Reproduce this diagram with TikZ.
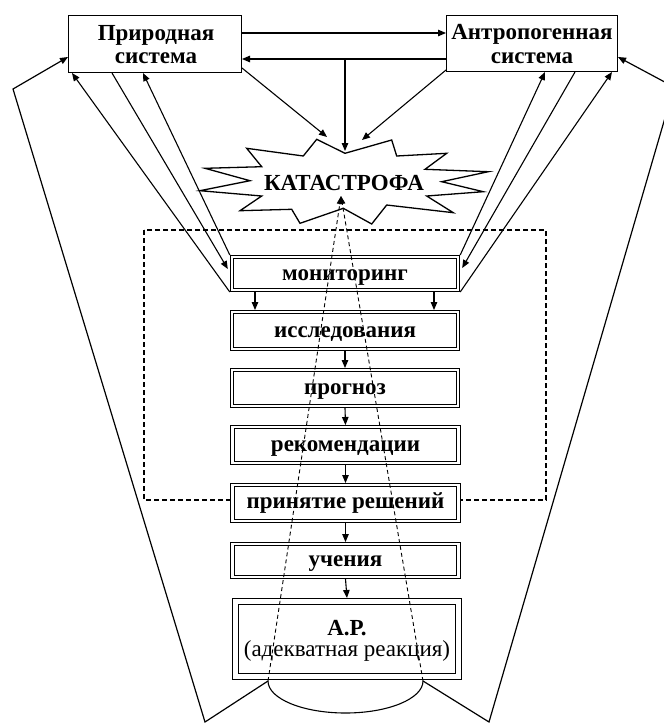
\documentclass[tikz,border=0pt]{standalone}
\usepackage{fontspec}
\setmainfont{Liberation Serif}
\usetikzlibrary{arrows.meta}
\begin{document}
\begin{tikzpicture}[x=1pt,y=-1pt,
  every node/.style={inner sep=0pt},
  lbl/.style={font=\bfseries\fontsize{23}{23}\selectfont},
  plainlbl/.style={font=\mdseries\fontsize{23}{23}\selectfont},
  sys/.style={draw, line width=1.3pt, fill=white},
  stage/.style={draw, line width=1.1pt, double, double distance=2.2pt, fill=white,
    outer sep=2.2pt, minimum width=226pt, minimum height=35.6pt,
    text height=13pt, text depth=0pt, lbl},
  link/.style={line width=1.1pt},
  arr/.style={link, -{Triangle[length=8pt,width=6.5pt]}},
  dashbox/.style={line width=1.1pt, dash pattern=on 5pt off 3pt},
  sightline/.style={line width=0.9pt, dash pattern=on 4pt off 3pt},
]
\useasboundingbox (0,0) rectangle (664,724);
\clip (0,0) rectangle (664,724);

% the two systems
\node[sys, minimum width=172.7pt, minimum height=56.7pt] (nat) at (155,44) {};
\node[lbl, anchor=base] (natA) at (156,40) {Природная};
\node[lbl, anchor=base] (natB) at (156,63) {система};
\node[sys, minimum width=170.7pt, minimum height=55.7pt] (ant) at (532,43.5) {};
\node[lbl, anchor=base] (antA) at (532,39.5) {Антропогенная};
\node[lbl, anchor=base] (antB) at (532,63) {система};

% links between the systems
\draw[arr] ([yshift=11pt]nat.east) -- ([yshift=11pt]nat.east -| ant.west);
\draw[arr] ([yshift=-15pt]nat.east -| ant.west) -- ([yshift=-15pt]nat.east);
\coordinate (junc) at (345,59);
\coordinate (katTop) at (345,151);
\coordinate (katNW) at (327,137);
\coordinate (katNE) at (362,140);
\draw[arr] (junc) -- (katTop);
\draw[arr] ([yshift=5pt]nat.south east) -- (katNW);
\draw[arr] ([yshift=2pt]ant.south west) -- (katNE);

% dashed frame of the control loop
\draw[dashbox] (144,230) rectangle (546,500);

% the catastrophe burst
\draw[line width=1.3pt, fill=white] (246.7,148.3) -- (303.3,156) -- (316.7,139.3)
  -- (345,153.3) -- (391.7,140) -- (396.7,156) -- (446.7,153.3) -- (425,169.3)
  -- (488.3,171.7) -- (441.7,181.7) -- (483.3,191.7) -- (426.7,196)
  -- (453.3,212.7) -- (386.7,205) -- (371.7,224) -- (343.3,208.3) -- (300,223.3)
  -- (291.7,209.3) -- (240,210.7) -- (261.7,196) -- (200,190.7) -- (250,180.7)
  -- (205,168.3) -- (261.7,166.7) -- cycle;
\node[lbl, anchor=base] (kat) at (344,190.5) {КАТАСТРОФА};

% chain of stages
\node[stage, minimum height=32.6pt] (mon) at (345,273.5) {мониторинг};
\node[stage, minimum height=36.6pt] (iss) at (345,330.5) {исследования};
\node[stage] (prog) at (345,388) {прогноз};
\node[stage] (rek) at (345.5,445) {рекомендации};
\node[stage, text height=11pt] (prin) at (345.5,503) {принятие решений};
\node[stage, minimum height=32.6pt, text height=12pt] (uch) at (345.5,560.5) {учения};
\node[stage, double distance=4.5pt, outer sep=3.35pt, minimum width=223.3pt,
  minimum height=75.3pt] (ap) at (347,639) {};
\node[lbl, anchor=base] (apA) at (347,635) {А.Р.};
\node[plainlbl, anchor=base] (apB) at (347,656.5) {(адекватная реакция)};

\draw[arr] ([xshift=-90pt]mon.south) -- ([xshift=-90pt]mon.south |- iss.north);
\draw[arr] ([xshift=89pt]mon.south) -- ([xshift=89pt]mon.south |- iss.north);
\draw[arr] (iss.south) -- (prog.north);
\draw[arr] (prog.south) -- (rek.north);
\draw[arr] (rek.south) -- (prin.north);
\draw[arr] (prin.south) -- (uch.north);
\draw[arr] (uch.south) -- (ap.north);

% monitoring feedback with the natural system
\draw[arr] (mon.south west) -- ([xshift=4pt]nat.south west);
\draw[arr] ([xshift=44pt]nat.south west) -- ([xshift=-2pt,yshift=4.5pt]mon.west);
\draw[arr] (mon.north west) -- ([xshift=75pt]nat.south west);

% monitoring feedback with the anthropogenic system
\draw[arr] (mon.north east) -- ([xshift=99pt]ant.south west);
\draw[arr] ([xshift=129pt]ant.south west) -- ([xshift=2pt,yshift=5.5pt]mon.east);
\draw[arr] (mon.south east) -- ([xshift=166pt]ant.south west);

% adequate response: sector and outer return paths
\coordinate (arcL) at (268,681);
\coordinate (arcR) at (423,681);
\coordinate (apex) at (341,196);
\coordinate (botL) at (205,722);
\coordinate (botR) at (489,722);
\coordinate (cornL) at (13,89);
\coordinate (cornR) at (674,87);

\draw[sightline, -{Triangle[length=8pt,width=6pt]}] (arcL) -- (apex);
\draw[sightline, -{Triangle[length=8pt,width=6pt]}] (arcR) -- (apex);
\draw[link] (arcL) .. controls (268,698.7) and (302.7,713) .. (345.5,713)
  .. controls (388.3,713) and (423,698.7) .. (arcR);

\draw[arr, line width=1.2pt] (arcL) -- (botL) -- (cornL) -- ([yshift=-13pt]nat.west);
\draw[arr, line width=1.2pt] (arcR) -- (botR) -- (cornR) -- ([yshift=-13.5pt]ant.east);
\end{tikzpicture}
\end{document}
